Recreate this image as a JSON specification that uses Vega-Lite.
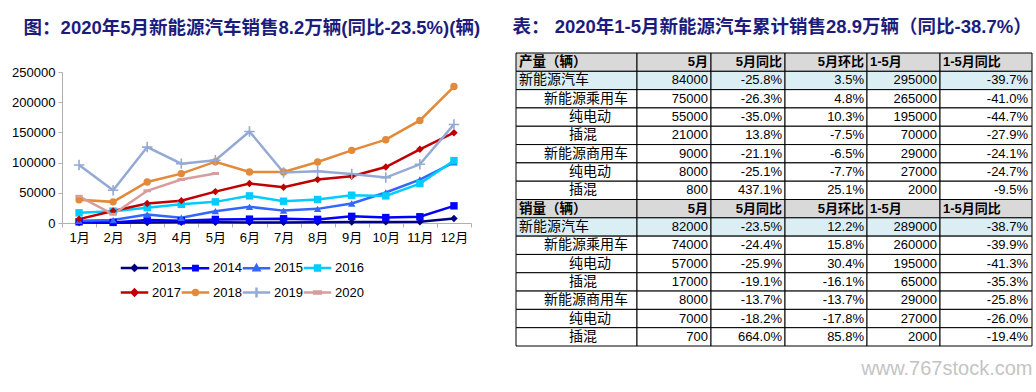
{
"$schema": "https://vega.github.io/schema/vega-lite/v6.json",
"padding": {"left": 11, "top": 18, "right": 2, "bottom": 2},
"config": {"view": {"stroke": null}, "font": "Liberation Sans, Noto Sans CJK SC", "title": {"fontSize": 18.5, "fontWeight": "bold", "color": "#1C1C7C", "anchor": "start"}},
"title": {"text": "www.767stock.com", "orient": "bottom", "anchor": "end", "color": "#C4C4C4", "fontSize": 20, "fontWeight": "normal", "font": "Liberation Sans", "offset": 12},
"datasets": {
"sales": [
{"year":"2013","month":"1月","v":800},{"year":"2013","month":"2月","v":600},{"year":"2013","month":"3月","v":900},{"year":"2013","month":"4月","v":1100},{"year":"2013","month":"5月","v":1200},{"year":"2013","month":"6月","v":1000},{"year":"2013","month":"7月","v":1000},{"year":"2013","month":"8月","v":1100},{"year":"2013","month":"9月","v":1500},{"year":"2013","month":"10月","v":1800},{"year":"2013","month":"11月","v":2100},{"year":"2013","month":"12月","v":7500},
{"year":"2014","month":"1月","v":2000},{"year":"2014","month":"2月","v":1000},{"year":"2014","month":"3月","v":4800},{"year":"2014","month":"4月","v":3600},{"year":"2014","month":"5月","v":5900},{"year":"2014","month":"6月","v":6400},{"year":"2014","month":"7月","v":7000},{"year":"2014","month":"8月","v":6000},{"year":"2014","month":"9月","v":11000},{"year":"2014","month":"10月","v":9000},{"year":"2014","month":"11月","v":10300},{"year":"2014","month":"12月","v":28400},
{"year":"2015","month":"1月","v":3600},{"year":"2015","month":"2月","v":4800},{"year":"2015","month":"3月","v":14200},{"year":"2015","month":"4月","v":8600},{"year":"2015","month":"5月","v":19600},{"year":"2015","month":"6月","v":26700},{"year":"2015","month":"7月","v":20500},{"year":"2015","month":"8月","v":23400},{"year":"2015","month":"9月","v":32300},{"year":"2015","month":"10月","v":50500},{"year":"2015","month":"11月","v":71900},{"year":"2015","month":"12月","v":100500},
{"year":"2016","month":"1月","v":16800},{"year":"2016","month":"2月","v":19600},{"year":"2016","month":"3月","v":25400},{"year":"2016","month":"4月","v":30900},{"year":"2016","month":"5月","v":35000},{"year":"2016","month":"6月","v":44900},{"year":"2016","month":"7月","v":36100},{"year":"2016","month":"8月","v":38900},{"year":"2016","month":"9月","v":46000},{"year":"2016","month":"10月","v":44900},{"year":"2016","month":"11月","v":65300},{"year":"2016","month":"12月","v":103300},
{"year":"2017","month":"1月","v":6400},{"year":"2017","month":"2月","v":19800},{"year":"2017","month":"3月","v":32300},{"year":"2017","month":"4月","v":37000},{"year":"2017","month":"5月","v":52000},{"year":"2017","month":"6月","v":65300},{"year":"2017","month":"7月","v":59200},{"year":"2017","month":"8月","v":71900},{"year":"2017","month":"9月","v":77400},{"year":"2017","month":"10月","v":92700},{"year":"2017","month":"11月","v":122000},{"year":"2017","month":"12月","v":149500},
{"year":"2018","month":"1月","v":38300},{"year":"2018","month":"2月","v":35000},{"year":"2018","month":"3月","v":68000},{"year":"2018","month":"4月","v":81800},{"year":"2018","month":"5月","v":101500},{"year":"2018","month":"6月","v":84500},{"year":"2018","month":"7月","v":84500},{"year":"2018","month":"8月","v":101000},{"year":"2018","month":"9月","v":120300},{"year":"2018","month":"10月","v":137900},{"year":"2018","month":"11月","v":169800},{"year":"2018","month":"12月","v":225900},
{"year":"2019","month":"1月","v":96000},{"year":"2019","month":"2月","v":54300},{"year":"2019","month":"3月","v":125700},{"year":"2019","month":"4月","v":98300},{"year":"2019","month":"5月","v":103800},{"year":"2019","month":"6月","v":151600},{"year":"2019","month":"7月","v":83500},{"year":"2019","month":"8月","v":85600},{"year":"2019","month":"9月","v":81200},{"year":"2019","month":"10月","v":75200},{"year":"2019","month":"11月","v":97200},{"year":"2019","month":"12月","v":163200},
{"year":"2020","month":"1月","v":44200},{"year":"2020","month":"2月","v":14500},{"year":"2020","month":"3月","v":53300},{"year":"2020","month":"4月","v":72000},{"year":"2020","month":"5月","v":82000}
],
"table": [
{"r":0,"kind":"header","level":0,"c0":"产量（辆）","c1":"5月","c2":"5月同比","c3":"5月环比","c4":"1-5月","c5":"1-5月同比"},
{"r":1,"kind":"total","level":0,"c0":"新能源汽车","c1":"84000","c2":"-25.8%","c3":"3.5%","c4":"295000","c5":"-39.7%"},
{"r":2,"kind":"body","level":1,"c0":"新能源乘用车","c1":"75000","c2":"-26.3%","c3":"4.8%","c4":"265000","c5":"-41.0%"},
{"r":3,"kind":"body","level":2,"c0":"纯电动","c1":"55000","c2":"-35.0%","c3":"10.3%","c4":"195000","c5":"-44.7%"},
{"r":4,"kind":"body","level":2,"c0":"插混","c1":"21000","c2":"13.8%","c3":"-7.5%","c4":"70000","c5":"-27.9%"},
{"r":5,"kind":"body","level":1,"c0":"新能源商用车","c1":"9000","c2":"-21.1%","c3":"-6.5%","c4":"29000","c5":"-24.1%"},
{"r":6,"kind":"body","level":2,"c0":"纯电动","c1":"8000","c2":"-25.1%","c3":"-7.7%","c4":"27000","c5":"-24.7%"},
{"r":7,"kind":"body","level":2,"c0":"插混","c1":"800","c2":"437.1%","c3":"25.1%","c4":"2000","c5":"-9.5%"},
{"r":8,"kind":"header","level":0,"c0":"销量（辆）","c1":"5月","c2":"5月同比","c3":"5月环比","c4":"1-5月","c5":"1-5月同比"},
{"r":9,"kind":"total","level":0,"c0":"新能源汽车","c1":"82000","c2":"-23.5%","c3":"12.2%","c4":"289000","c5":"-38.7%"},
{"r":10,"kind":"body","level":1,"c0":"新能源乘用车","c1":"74000","c2":"-24.4%","c3":"15.8%","c4":"260000","c5":"-39.9%"},
{"r":11,"kind":"body","level":2,"c0":"纯电动","c1":"57000","c2":"-25.9%","c3":"30.4%","c4":"195000","c5":"-41.3%"},
{"r":12,"kind":"body","level":2,"c0":"插混","c1":"17000","c2":"-19.1%","c3":"-16.1%","c4":"65000","c5":"-35.3%"},
{"r":13,"kind":"body","level":1,"c0":"新能源商用车","c1":"8000","c2":"-13.7%","c3":"-13.7%","c4":"29000","c5":"-25.8%"},
{"r":14,"kind":"body","level":2,"c0":"纯电动","c1":"7000","c2":"-18.2%","c3":"-17.8%","c4":"27000","c5":"-26.0%"},
{"r":15,"kind":"body","level":2,"c0":"插混","c1":"700","c2":"664.0%","c3":"85.8%","c4":"2000","c5":"-19.4%"}
]
},
"spacing": 31,
"hconcat": [
{
"width": 409, "height": 170,
"title": {"text": "图：2020年5月新能源汽车销售8.2万辆(同比-23.5%)(辆)", "dx": 12, "offset": 16},
"data": {"name": "sales"},
"encoding": {
"x": {"field": "month", "type": "ordinal", "sort": ["1月","2月","3月","4月","5月","6月","7月","8月","9月","10月","11月","12月"], "scale": {"type": "band", "paddingInner": 0, "paddingOuter": 0}, "axis": {"title": null, "labelAngle": 0, "tickBand": "extent", "labelFontSize": 13, "labelColor": "#000", "domainColor": "#B0B0B0", "tickColor": "#B0B0B0", "tickSize": 4, "labelPadding": 4, "grid": false}},
"y": {"field": "v", "type": "quantitative", "scale": {"domain": [0, 250000], "nice": false, "range": [170, 19]}, "axis": {"title": null, "values": [0, 50000, 100000, 150000, 200000, 250000], "format": "d", "grid": false, "labelFontSize": 13, "labelColor": "#000", "domainColor": "#B0B0B0", "tickColor": "#B0B0B0", "tickSize": 4, "labelPadding": 3}},
"color": {"field": "year", "type": "nominal", "scale": {"domain": ["2013","2014","2015","2016","2017","2018","2019","2020"], "range": ["#000080","#0000FF","#3366FF","#00CCFF","#C00000","#E3893A","#94AAD4","#D79C9C"]},
"legend": {"title": null, "orient": "none", "legendX": 60, "legendY": 202, "direction": "horizontal", "columns": 4, "symbolSize": 484, "symbolStrokeWidth": 2.5, "labelFontSize": 13, "labelColor": "#000", "labelOffset": 5, "columnPadding": -5, "rowPadding": 4,
"encode": {"symbols": {"update": {
"shape": {"signal": "datum.value==='2013'?'M-1.25,0H1.25M0,-0.24L0.24,0L0,0.24L-0.24,0Z':datum.value==='2014'?'M-1.25,0H1.25M-0.2,-0.2H0.2V0.2H-0.2Z':datum.value==='2015'?'M-1.25,0H1.25M0,-0.27L0.25,0.18H-0.25Z':datum.value==='2016'?'M-1.25,0H1.25M-0.22,-0.22H0.22V0.22H-0.22Z':datum.value==='2017'?'M-1.25,0H1.25M0,-0.26L0.26,0L0,0.26L-0.26,0Z':datum.value==='2018'?'M-1.25,0H1.25M-0.22,0A0.22,0.22,0,1,0,0.22,0A0.22,0.22,0,1,0,-0.22,0Z':datum.value==='2019'?'M-1.25,0H1.25M0,-0.45V0.45':'M-1.25,0H1.25M-0.3,-0.08H0.3V0.08H-0.3Z'"},
"fill": {"signal": "datum.value==='2013'?'#000080':datum.value==='2014'?'#0000FF':datum.value==='2015'?'#3366FF':datum.value==='2016'?'#00CCFF':datum.value==='2017'?'#C00000':datum.value==='2018'?'#E3893A':datum.value==='2019'?'#94AAD4':'#D79C9C'"},
"stroke": {"signal": "datum.value==='2013'?'#000080':datum.value==='2014'?'#0000FF':datum.value==='2015'?'#3366FF':datum.value==='2016'?'#00CCFF':datum.value==='2017'?'#C00000':datum.value==='2018'?'#E3893A':datum.value==='2019'?'#94AAD4':'#D79C9C'"},
"strokeWidth": {"value": 2.5},
"opacity": {"value": 1}
}}}}}
},
"layer": [
{"mark": {"type": "line", "strokeWidth": 2.5}},
{"transform": [{"filter": "datum.year != '2019'"}], "mark": {"type": "point", "filled": true, "opacity": 1, "size": 55},
"encoding": {"shape": {"field": "year", "type": "nominal", "scale": {"domain": ["2013","2014","2015","2016","2017","2018","2020"], "range": ["diamond","square","triangle-up","square","diamond","circle","M-1,-0.4H1V0.4H-1Z"]}, "legend": null}}},
{"transform": [{"filter": "datum.year == '2019'"}], "mark": {"type": "point", "filled": false, "opacity": 1, "shape": "M-1,0H1M0,-1V1", "size": 110, "strokeWidth": 1.6}}
]
},
{
"title": {"text": "表： 2020年1-5月新能源汽车累计销售28.9万辆（同比-38.7%）", "dx": -3, "offset": 16},
"data": {"name": "table"},
"spacing": 0,
"bounds": "flush",
"hconcat": [
{"width": 121, "height": 293,
"encoding": {"y": {"field": "r", "type": "ordinal", "axis": null, "scale": {"paddingInner": 0, "paddingOuter": 0}}},
"layer": [
{"mark": {"type": "rect", "stroke": "#000", "strokeWidth": 1}, "encoding": {"x": {"datum": 0, "type": "quantitative", "scale": {"domain": [0, 1]}, "axis": null}, "x2": {"datum": 1}, "fill": {"field": "kind", "type": "nominal", "scale": {"domain": ["header","total","body"], "range": ["#D9D9D9","#DAEEF3","#FFFFFF"]}, "legend": null}}},
{"transform": [{"filter": "datum.kind == 'header'"}], "mark": {"type": "text", "align": "left", "dx": 3, "fontWeight": "bold", "fontSize": 13.5, "font": "Noto Sans CJK SC", "color": "#000"}, "encoding": {"x": {"datum": 0, "type": "quantitative", "axis": null}, "text": {"field": "c0"}}},
{"transform": [{"filter": "datum.kind != 'header' && datum.level == 0"}], "mark": {"type": "text", "align": "left", "dx": 3, "fontSize": 14, "font": "Noto Sans CJK SC", "color": "#000"}, "encoding": {"x": {"datum": 0, "type": "quantitative", "axis": null}, "text": {"field": "c0"}}},
{"transform": [{"filter": "datum.level == 1"}], "mark": {"type": "text", "align": "left", "dx": 28, "fontSize": 14, "font": "Noto Sans CJK SC", "color": "#000"}, "encoding": {"x": {"datum": 0, "type": "quantitative", "axis": null}, "text": {"field": "c0"}}},
{"transform": [{"filter": "datum.level == 2"}], "mark": {"type": "text", "align": "left", "dx": 53, "fontSize": 14, "font": "Noto Sans CJK SC", "color": "#000"}, "encoding": {"x": {"datum": 0, "type": "quantitative", "axis": null}, "text": {"field": "c0"}}}
]},
{"width": 74, "height": 293,
"encoding": {"y": {"field": "r", "type": "ordinal", "axis": null, "scale": {"paddingInner": 0, "paddingOuter": 0}}},
"layer": [
{"mark": {"type": "rect", "stroke": "#000", "strokeWidth": 1}, "encoding": {"x": {"datum": 0, "type": "quantitative", "scale": {"domain": [0, 1]}, "axis": null}, "x2": {"datum": 1}, "fill": {"field": "kind", "type": "nominal", "scale": {"domain": ["header","total","body"], "range": ["#D9D9D9","#DAEEF3","#FFFFFF"]}, "legend": null}}},
{"transform": [{"filter": "datum.kind == 'header'"}], "mark": {"type": "text", "align": "right", "dx": -3, "fontWeight": "bold", "fontSize": 13, "color": "#000"}, "encoding": {"x": {"datum": 1, "type": "quantitative", "axis": null}, "text": {"field": "c1"}}},
{"transform": [{"filter": "datum.kind != 'header'"}], "mark": {"type": "text", "align": "right", "dx": -3, "fontSize": 13, "color": "#000"}, "encoding": {"x": {"datum": 1, "type": "quantitative", "axis": null}, "text": {"field": "c1"}}}
]},
{"width": 74, "height": 293,
"encoding": {"y": {"field": "r", "type": "ordinal", "axis": null, "scale": {"paddingInner": 0, "paddingOuter": 0}}},
"layer": [
{"mark": {"type": "rect", "stroke": "#000", "strokeWidth": 1}, "encoding": {"x": {"datum": 0, "type": "quantitative", "scale": {"domain": [0, 1]}, "axis": null}, "x2": {"datum": 1}, "fill": {"field": "kind", "type": "nominal", "scale": {"domain": ["header","total","body"], "range": ["#D9D9D9","#DAEEF3","#FFFFFF"]}, "legend": null}}},
{"transform": [{"filter": "datum.kind == 'header'"}], "mark": {"type": "text", "align": "right", "dx": -3, "fontWeight": "bold", "fontSize": 13, "color": "#000"}, "encoding": {"x": {"datum": 1, "type": "quantitative", "axis": null}, "text": {"field": "c2"}}},
{"transform": [{"filter": "datum.kind != 'header'"}], "mark": {"type": "text", "align": "right", "dx": -3, "fontSize": 13, "color": "#000"}, "encoding": {"x": {"datum": 1, "type": "quantitative", "axis": null}, "text": {"field": "c2"}}}
]},
{"width": 82, "height": 293,
"encoding": {"y": {"field": "r", "type": "ordinal", "axis": null, "scale": {"paddingInner": 0, "paddingOuter": 0}}},
"layer": [
{"mark": {"type": "rect", "stroke": "#000", "strokeWidth": 1}, "encoding": {"x": {"datum": 0, "type": "quantitative", "scale": {"domain": [0, 1]}, "axis": null}, "x2": {"datum": 1}, "fill": {"field": "kind", "type": "nominal", "scale": {"domain": ["header","total","body"], "range": ["#D9D9D9","#DAEEF3","#FFFFFF"]}, "legend": null}}},
{"transform": [{"filter": "datum.kind == 'header'"}], "mark": {"type": "text", "align": "right", "dx": -3, "fontWeight": "bold", "fontSize": 13, "color": "#000"}, "encoding": {"x": {"datum": 1, "type": "quantitative", "axis": null}, "text": {"field": "c3"}}},
{"transform": [{"filter": "datum.kind != 'header'"}], "mark": {"type": "text", "align": "right", "dx": -3, "fontSize": 13, "color": "#000"}, "encoding": {"x": {"datum": 1, "type": "quantitative", "axis": null}, "text": {"field": "c3"}}}
]},
{"width": 73, "height": 293,
"encoding": {"y": {"field": "r", "type": "ordinal", "axis": null, "scale": {"paddingInner": 0, "paddingOuter": 0}}},
"layer": [
{"mark": {"type": "rect", "stroke": "#000", "strokeWidth": 1}, "encoding": {"x": {"datum": 0, "type": "quantitative", "scale": {"domain": [0, 1]}, "axis": null}, "x2": {"datum": 1}, "fill": {"field": "kind", "type": "nominal", "scale": {"domain": ["header","total","body"], "range": ["#D9D9D9","#DAEEF3","#FFFFFF"]}, "legend": null}}},
{"transform": [{"filter": "datum.kind == 'header'"}], "mark": {"type": "text", "align": "left", "dx": 3, "fontWeight": "bold", "fontSize": 13, "color": "#000"}, "encoding": {"x": {"datum": 0, "type": "quantitative", "axis": null}, "text": {"field": "c4"}}},
{"transform": [{"filter": "datum.kind != 'header'"}], "mark": {"type": "text", "align": "right", "dx": -3, "fontSize": 13, "color": "#000"}, "encoding": {"x": {"datum": 1, "type": "quantitative", "axis": null}, "text": {"field": "c4"}}}
]},
{"width": 92, "height": 293,
"encoding": {"y": {"field": "r", "type": "ordinal", "axis": null, "scale": {"paddingInner": 0, "paddingOuter": 0}}},
"layer": [
{"mark": {"type": "rect", "stroke": "#000", "strokeWidth": 1}, "encoding": {"x": {"datum": 0, "type": "quantitative", "scale": {"domain": [0, 1]}, "axis": null}, "x2": {"datum": 1}, "fill": {"field": "kind", "type": "nominal", "scale": {"domain": ["header","total","body"], "range": ["#D9D9D9","#DAEEF3","#FFFFFF"]}, "legend": null}}},
{"transform": [{"filter": "datum.kind == 'header'"}], "mark": {"type": "text", "align": "left", "dx": 3, "fontWeight": "bold", "fontSize": 13, "color": "#000"}, "encoding": {"x": {"datum": 0, "type": "quantitative", "axis": null}, "text": {"field": "c5"}}},
{"transform": [{"filter": "datum.kind != 'header'"}], "mark": {"type": "text", "align": "right", "dx": -4, "fontSize": 13, "color": "#000"}, "encoding": {"x": {"datum": 1, "type": "quantitative", "axis": null}, "text": {"field": "c5"}}}
]}
]
}
]
}
